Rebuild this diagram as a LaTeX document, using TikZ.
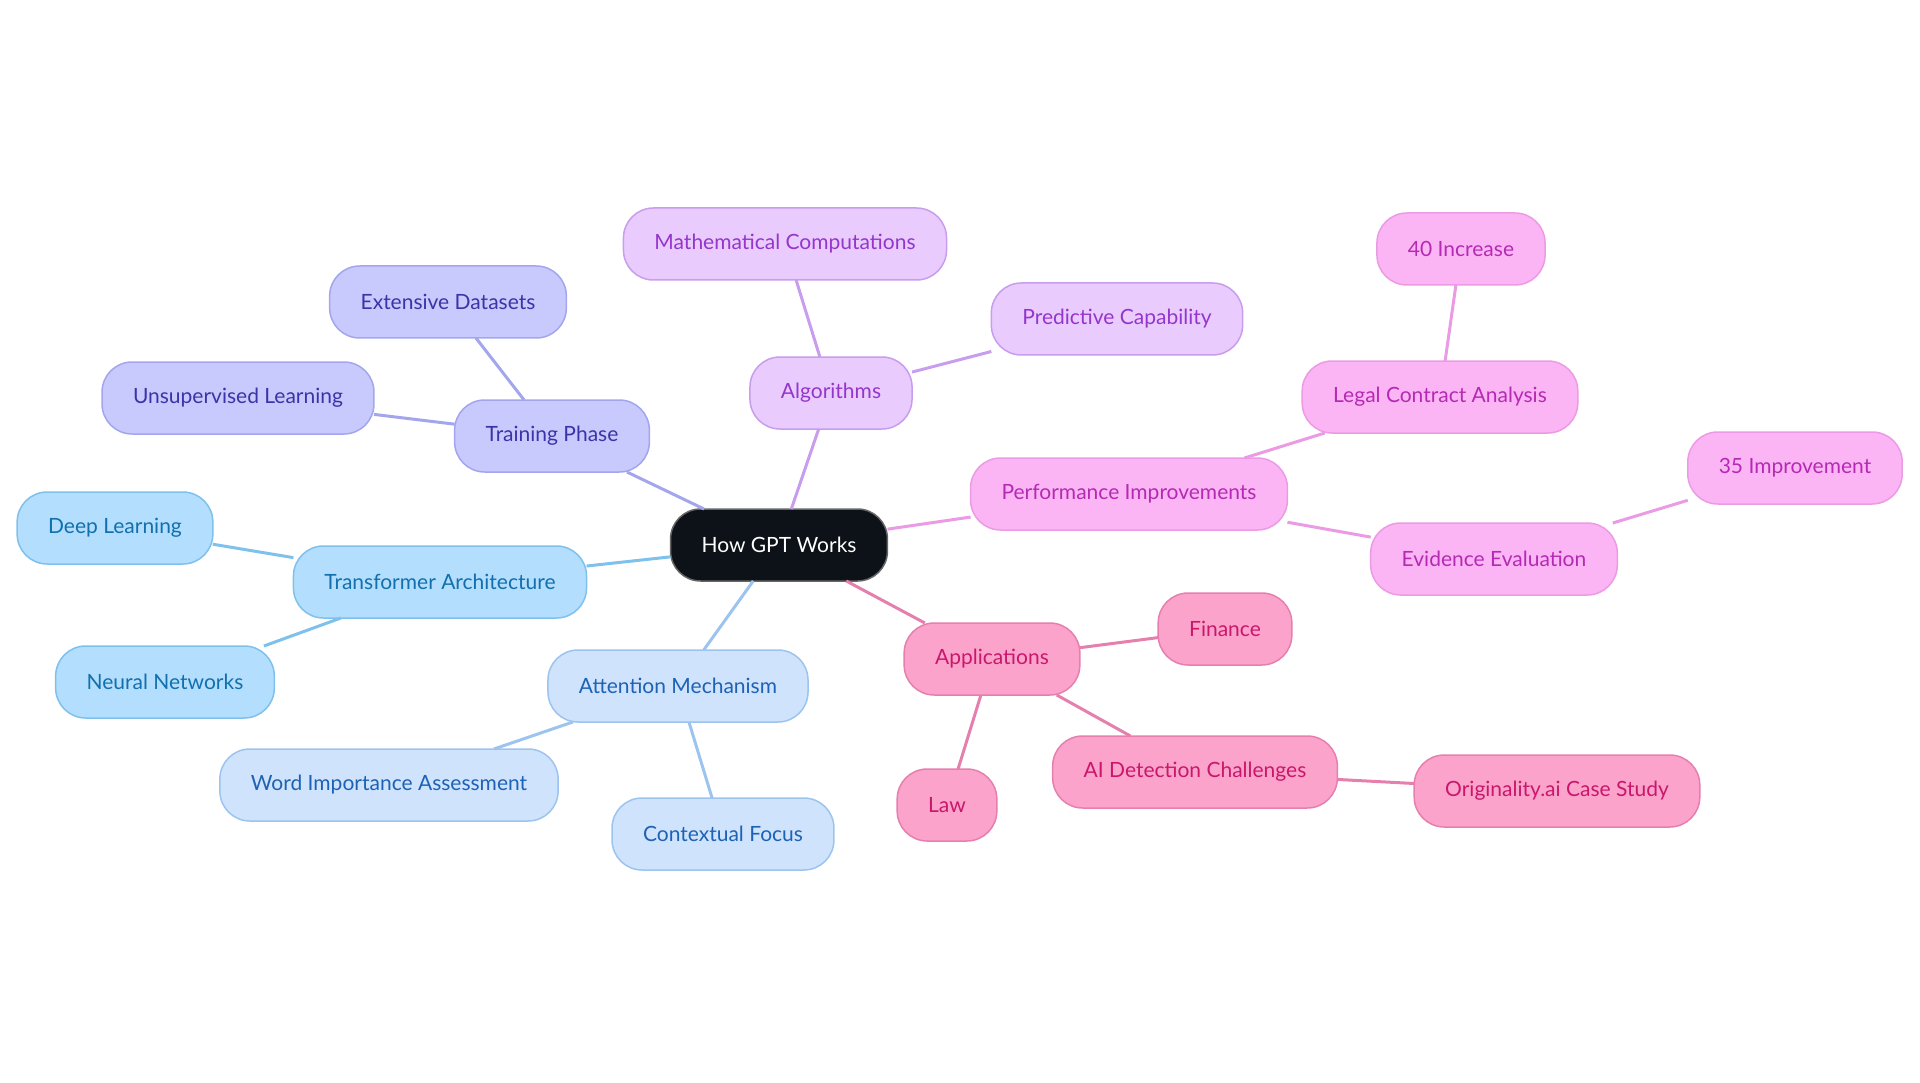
\documentclass[tikz,border=0pt]{standalone}
\usepackage{fontspec}
\setmainfont{Lato}
\usepackage{tikz}

\definecolor{rootfill}{HTML}{0D1218}
\definecolor{trainfill}{HTML}{C8C9FC}
\definecolor{traindraw}{HTML}{A3A6EC}
\definecolor{traintext}{HTML}{3B34A8}
\definecolor{transfill}{HTML}{B3DEFD}
\definecolor{transdraw}{HTML}{7EC1EC}
\definecolor{transtext}{HTML}{1270AE}
\definecolor{attfill}{HTML}{CFE3FC}
\definecolor{attdraw}{HTML}{9CC4EE}
\definecolor{atttext}{HTML}{1D62B5}
\definecolor{algfill}{HTML}{E9CBFE}
\definecolor{algdraw}{HTML}{C89DEE}
\definecolor{algtext}{HTML}{9436CC}
\definecolor{perffill}{HTML}{FCB5F4}
\definecolor{perfdraw}{HTML}{EA9BE4}
\definecolor{perftext}{HTML}{B52AB4}
\definecolor{appfill}{HTML}{FCA3CB}
\definecolor{appdraw}{HTML}{E580AE}
\definecolor{apptext}{HTML}{C9176C}

\begin{document}
\begin{tikzpicture}[x=1pt, y=-1pt,
    topic/.style={rounded corners=30pt, minimum height=72pt, inner xsep=31pt,
        outer sep=0pt, line width=1.5pt, font=\fontsize{21}{25}\selectfont},
    root/.style={topic, fill=rootfill, draw=black!60, text=white},
    train/.style={topic, fill=trainfill, draw=traindraw, text=traintext},
    trans/.style={topic, fill=transfill, draw=transdraw, text=transtext},
    att/.style={topic, fill=attfill, draw=attdraw, text=atttext},
    alg/.style={topic, fill=algfill, draw=algdraw, text=algtext},
    perf/.style={topic, fill=perffill, draw=perfdraw, text=perftext},
    app/.style={topic, fill=appfill, draw=appdraw, text=apptext},
    link/.style={line width=3pt}]
			\useasboundingbox (0,0) rectangle (1920,1083);
			
			\node[root] (gpt) at (779,545) {How GPT Works};
			
			\node[train] (training) at (552,436) {Training Phase};
			\node[train] (datasets) at (448,302) {Extensive Datasets};
			\node[train] (unsup) at (238,398) {Unsupervised Learning};
			
			\node[trans] (transformer) at (440,582) {Transformer Architecture};
			\node[trans] (deep) at (115,528) {Deep Learning};
			\node[trans] (neural) at (165,682) {Neural Networks};
			
			\node[att] (attention) at (678,686) {Attention Mechanism};
			\node[att] (word) at (389,785) {Word Importance Assessment};
			\node[att] (context) at (723,834) {Contextual Focus};
			
			\node[alg] (algorithms) at (831,393) {Algorithms};
			\node[alg] (math) at (785,244) {Mathematical Computations};
			\node[alg] (predict) at (1117,319) {Predictive Capability};
			
			\node[perf] (perform) at (1129,494) {Performance Improvements};
			\node[perf] (legal) at (1440,397) {Legal Contract Analysis};
			\node[perf] (increase) at (1461,249) {40 Increase};
			\node[perf] (evidence) at (1494,559) {Evidence Evaluation};
			\node[perf] (improve) at (1795,468) {35 Improvement};
			
			\node[app] (apps) at (992,659) {Applications};
			\node[app] (finance) at (1225,629) {Finance};
			\node[app] (law) at (947,805) {Law};
			\node[app] (detect) at (1195,772) {AI Detection Challenges};
			\node[app] (case) at (1557,791) {Originality.ai Case Study};
			
			\draw[link, traindraw] (gpt) -- (training);
			\draw[link, traindraw] (training) -- (datasets);
			\draw[link, traindraw] (training) -- (unsup);
			\draw[link, transdraw] (gpt) -- (transformer);
			\draw[link, transdraw] (transformer) -- (deep);
			\draw[link, transdraw] (transformer) -- (neural);
			\draw[link, attdraw] (gpt) -- (attention);
			\draw[link, attdraw] (attention) -- (word);
			\draw[link, attdraw] (attention) -- (context);
			\draw[link, algdraw] (gpt) -- (algorithms);
			\draw[link, algdraw] (algorithms) -- (math);
			\draw[link, algdraw] (algorithms) -- (predict);
			\draw[link, perfdraw] (gpt) -- (perform);
			\draw[link, perfdraw] (perform) -- (legal);
			\draw[link, perfdraw] (legal) -- (increase);
			\draw[link, perfdraw] (perform) -- (evidence);
			\draw[link, perfdraw] (evidence) -- (improve);
			\draw[link, appdraw] (gpt) -- (apps);
			\draw[link, appdraw] (apps) -- (finance);
			\draw[link, appdraw] (apps) -- (law);
			\draw[link, appdraw] (apps) -- (detect);
			\draw[link, appdraw] (detect) -- (case);
		\end{tikzpicture}
\end{document}
